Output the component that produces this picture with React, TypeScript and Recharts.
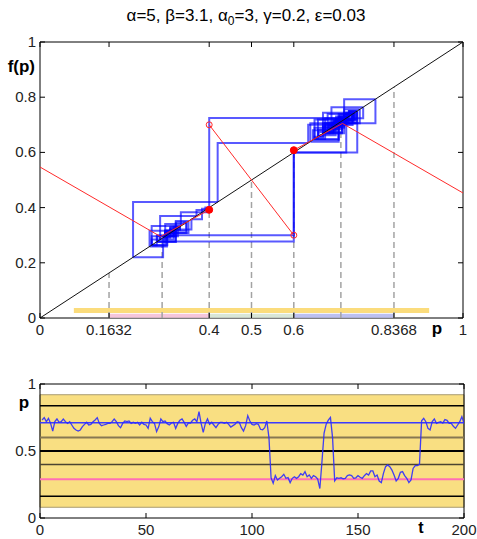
import React from 'react';
import { ComposedChart, Line, XAxis, YAxis, ReferenceLine, ReferenceArea, ReferenceDot } from 'recharts';

const FONT = '"Liberation Sans", Arial, Helvetica, sans-serif';

// ---------------- data ----------------
// time series p_t, t = 1..200
const P_SERIES = [
  0.731, 0.749, 0.719, 0.744, 0.706, 0.649, 0.719, 0.739, 0.714, 0.719,
  0.739, 0.719, 0.706, 0.719, 0.694, 0.669, 0.657, 0.649, 0.657, 0.682,
  0.699, 0.714, 0.694, 0.699, 0.719, 0.731, 0.749, 0.706, 0.689, 0.694,
  0.699, 0.706, 0.706, 0.719, 0.739, 0.719, 0.689, 0.674, 0.706, 0.724,
  0.719, 0.724, 0.706, 0.714, 0.706, 0.714, 0.694, 0.714, 0.699, 0.694,
  0.669, 0.744, 0.719, 0.706, 0.645, 0.680, 0.739, 0.719, 0.724, 0.704,
  0.694, 0.709, 0.714, 0.669, 0.706, 0.729, 0.739, 0.714, 0.684, 0.709,
  0.709, 0.729, 0.739, 0.719, 0.793, 0.706, 0.639, 0.706, 0.739, 0.699,
  0.714, 0.694, 0.674, 0.699, 0.714, 0.714, 0.706, 0.714, 0.699, 0.679,
  0.689, 0.699, 0.719, 0.714, 0.674, 0.649, 0.689, 0.764, 0.724, 0.699,
  0.694, 0.704, 0.699, 0.662, 0.659, 0.674, 0.724, 0.600, 0.300, 0.259,
  0.316, 0.284, 0.296, 0.308, 0.326, 0.296, 0.301, 0.264, 0.296, 0.308,
  0.296, 0.308, 0.331, 0.321, 0.346, 0.308, 0.321, 0.296, 0.316, 0.308,
  0.291, 0.220, 0.420, 0.634, 0.700, 0.730, 0.750, 0.600, 0.277, 0.300,
  0.296, 0.300, 0.293, 0.296, 0.316, 0.321, 0.316, 0.296, 0.300, 0.316,
  0.304, 0.296, 0.316, 0.331, 0.321, 0.351, 0.351, 0.308, 0.321, 0.276,
  0.264, 0.333, 0.383, 0.396, 0.383, 0.358, 0.321, 0.276, 0.296, 0.341,
  0.346, 0.316, 0.296, 0.264, 0.284, 0.370, 0.391, 0.391, 0.400, 0.725,
  0.744, 0.719, 0.669, 0.657, 0.719, 0.739, 0.706, 0.714, 0.719, 0.709,
  0.734, 0.729, 0.706, 0.706, 0.684, 0.669, 0.694, 0.719, 0.756, 0.706,
];
const T_FIRST = 1;

// piecewise map f(p)
const MAP_LEFT = [[0, 0.547], [0.285, 0.295], [0.4, 0.392]];
const MAP_MID = [[0.4, 0.7], [0.6, 0.3]];
const MAP_RIGHT = [[0.6, 0.608], [0.715, 0.705], [1, 0.453]];
const OPEN_MARKERS = [[0.4, 0.7], [0.6, 0.3]];
const FILLED_MARKERS = [[0.4, 0.392], [0.6, 0.608]];
const DIAGONAL = [[0, 0], [1, 1]];

// special points / levels
const DASHED_P = [0.1632, 0.2887, 0.4, 0.5, 0.6, 0.7113, 0.8368];
const STRIP_RANGES = [[0.1632, 0.4], [0.4, 0.6], [0.6, 0.8368]];
const BAND = [0.08, 0.92];
const H_LEVELS = [0.8368, 0.7113, 0.6, 0.5, 0.4, 0.2887, 0.1632];

// ticks
const TOP_X_TICKS = [0, 0.1632, 0.4, 0.5, 0.6, 0.8368, 1];
const TOP_Y_TICKS = [0, 0.2, 0.4, 0.6, 0.8, 1];
const BOT_X_TICKS = [0, 50, 100, 150, 200];
const BOT_Y_TICKS = [0, 0.5, 1];

// ---------------- derived tables ----------------
const toXY = (pts: number[][]) => pts.map(([x, y]) => ({ x, y }));
const seriesData = P_SERIES.map((p, i) => ({ t: T_FIRST + i, p }));
const cobweb = P_SERIES.slice(0, -1).map((p, i) => {
  const q = P_SERIES[i + 1];
  return [
    { x: p, y: p },
    { x: p, y: q },
    { x: q, y: q },
  ];
});

// ---------------- styles ----------------
const STRIP_COLORS = ['#f5c6db', '#d9e6d6', '#bcc0f0'];
const LEVEL_STYLES = [
  { c: '#000000', w: 1.5 },
  { c: '#3b3bff', w: 1.5 },
  { c: '#877852', w: 2 },
  { c: '#000000', w: 2 },
  { c: '#4c4431', w: 1.5 },
  { c: '#ff6fb4', w: 2 },
  { c: '#000000', w: 1.5 },
];
const TICK_LEN = 5;
const LABEL_SIZE = 15;
const LABEL_COLOR = '#222';

// top chart geometry
const TOP_W = 477;
const TOP_H = 350;
const TOP_M = { top: 42, right: 14, bottom: 12, left: 10 };
const TOP_PLOT_H = TOP_H - TOP_M.top - TOP_M.bottom - 20;
const TOP_PLOT_W = TOP_W - TOP_M.left - TOP_M.right - 30;

// bottom chart geometry
const BOT_W = 477;
const BOT_H = 189;
const BOT_M = { top: 34, right: 13, bottom: 1, left: 10 };
const BOT_PLOT_H = BOT_H - BOT_M.top - BOT_M.bottom - 20;
const BOT_PLOT_W = BOT_W - BOT_M.left - BOT_M.right - 30;

const makeXTick = (plotH: number) => (props: any) => {
  const { x, y, payload } = props;
  return (
    <g>
      <line x1={x} y1={y} x2={x} y2={y - TICK_LEN} stroke="#000" strokeWidth={1} />
      <line x1={x} y1={y - plotH} x2={x} y2={y - plotH + TICK_LEN} stroke="#000" strokeWidth={1} />
      <text x={x} y={y + 17} textAnchor="middle" fontSize={LABEL_SIZE} fill={LABEL_COLOR} fontFamily={FONT}>
        {String(payload.value)}
      </text>
    </g>
  );
};

const makeYTick = (plotW: number) => (props: any) => {
  const { x, y, payload } = props;
  return (
    <g>
      <line x1={x} y1={y} x2={x + TICK_LEN} y2={y} stroke="#000" strokeWidth={1} />
      <line x1={x + plotW} y1={y} x2={x + plotW - TICK_LEN} y2={y} stroke="#000" strokeWidth={1} />
      <text x={x - 4} y={y + 5} textAnchor="end" fontSize={LABEL_SIZE} fill={LABEL_COLOR} fontFamily={FONT}>
        {String(payload.value)}
      </text>
    </g>
  );
};

const TopXTick = makeXTick(TOP_PLOT_H);
const TopYTick = makeYTick(TOP_PLOT_W);
const BotXTick = makeXTick(BOT_PLOT_H);
const BotYTick = makeYTick(BOT_PLOT_W);

const lineCommon = {
  dot: false,
  activeDot: false,
  isAnimationActive: false,
  legendType: 'none' as const,
};

export default function App() {
  return (
    <div style={{ position: 'absolute', left: 0, top: 0, width: 477, height: 539, background: '#fff', fontFamily: FONT }}>
      <div style={{ position: 'absolute', left: 0, top: 0 }}>
        <ComposedChart width={TOP_W} height={TOP_H} margin={TOP_M}>
          <XAxis
            type="number"
            dataKey="x"
            domain={[0, 1]}
            ticks={TOP_X_TICKS}
            interval={0}
            height={20}
            tickSize={0}
            tickMargin={0}
            axisLine={false}
            tickLine={false}
            tick={TopXTick}
            allowDataOverflow
          />
          <YAxis
            type="number"
            domain={[0, 1]}
            ticks={TOP_Y_TICKS}
            interval={0}
            width={30}
            tickSize={0}
            tickMargin={0}
            axisLine={false}
            tickLine={false}
            tick={TopYTick}
            allowDataOverflow
          />
          {STRIP_RANGES.map(([a, b], i) => (
            <ReferenceLine
              key={'s' + i}
              segment={[{ x: a, y: 0.008 }, { x: b, y: 0.008 }]}
              stroke={STRIP_COLORS[i]}
              strokeWidth={4}
              ifOverflow="visible"
            />
          ))}
          <ReferenceLine
            segment={[{ x: BAND[0], y: 0.027 }, { x: BAND[1], y: 0.027 }]}
            stroke="#fbdc7c"
            strokeWidth={5}
          />
          {DASHED_P.map((v, i) => (
            <ReferenceLine
              key={'d' + i}
              segment={[{ x: v, y: 0 }, { x: v, y: v }]}
              stroke="#a3a3a3"
              strokeWidth={1.5}
              strokeDasharray="6 4"
            />
          ))}
          {cobweb.map((seg, i) => (
            <Line key={'c' + i} data={seg} dataKey="y" stroke="#0000ff" strokeOpacity={0.65} strokeWidth={2} {...lineCommon} />
          ))}
          <Line data={toXY(DIAGONAL)} dataKey="y" stroke="#111" strokeWidth={1} {...lineCommon} />
          <Line data={toXY(MAP_LEFT)} dataKey="y" stroke="#ff2a2a" strokeWidth={1} {...lineCommon} />
          <Line data={toXY(MAP_MID)} dataKey="y" stroke="#ff2a2a" strokeWidth={1} {...lineCommon} />
          <Line data={toXY(MAP_RIGHT)} dataKey="y" stroke="#ff2a2a" strokeWidth={1} {...lineCommon} />
          {OPEN_MARKERS.map(([x, y], i) => (
            <ReferenceDot key={'o' + i} x={x} y={y} r={3} fill="#fff" fillOpacity={0} stroke="#ff2a2a" strokeWidth={1} />
          ))}
          {FILLED_MARKERS.map(([x, y], i) => (
            <ReferenceDot key={'f' + i} x={x} y={y} r={3.5} fill="#ff0000" stroke="#ff0000" strokeWidth={1} />
          ))}
          <ReferenceArea x1={0} x2={1} y1={0} y2={1} fill="none" fillOpacity={0} stroke="#000" strokeWidth={1} ifOverflow="visible" />
        </ComposedChart>
      </div>

      <div style={{ position: 'absolute', left: 0, top: TOP_H }}>
        <ComposedChart width={BOT_W} height={BOT_H} data={seriesData} margin={BOT_M}>
          <XAxis
            type="number"
            dataKey="t"
            domain={[0, 200]}
            ticks={BOT_X_TICKS}
            interval={0}
            height={20}
            tickSize={0}
            tickMargin={0}
            axisLine={false}
            tickLine={false}
            tick={BotXTick}
            allowDataOverflow
          />
          <YAxis
            type="number"
            domain={[0, 1]}
            ticks={BOT_Y_TICKS}
            interval={0}
            width={30}
            tickSize={0}
            tickMargin={0}
            axisLine={false}
            tickLine={false}
            tick={BotYTick}
            allowDataOverflow
          />
          <ReferenceArea x1={0} x2={200} y1={BAND[0]} y2={BAND[1]} fill="#f9df82" fillOpacity={1} stroke="#a99d72" strokeWidth={1} />
          {H_LEVELS.map((v, i) => (
            <ReferenceLine key={'h' + i} y={v} stroke={LEVEL_STYLES[i].c} strokeWidth={LEVEL_STYLES[i].w} />
          ))}
          <Line dataKey="p" stroke="#2b2bff" strokeOpacity={0.9} strokeWidth={1.3} {...lineCommon} />
          <ReferenceArea x1={0} x2={200} y1={0} y2={1} fill="none" fillOpacity={0} stroke="#000" strokeWidth={1} ifOverflow="visible" />
        </ComposedChart>
      </div>

      <svg width={477} height={539} style={{ position: 'absolute', left: 0, top: 0, pointerEvents: 'none' }}>
        <text x={246} y={21} textAnchor="middle" fontSize={17} fill="#000" fontFamily={FONT}>
          α=5, β=3.1, α<tspan dy={4} fontSize={12}>0</tspan>
          <tspan dy={-4}>=3, γ=0.2, ε=0.03</tspan>
        </text>
        <text x={35} y={72} textAnchor="end" fontSize={17} fontWeight="bold" fill="#000" fontFamily={FONT}>f(p)</text>
        <text x={437} y={334} textAnchor="middle" fontSize={17} fontWeight="bold" fill="#000" fontFamily={FONT}>p</text>
        <text x={24} y={408} textAnchor="middle" fontSize={17} fontWeight="bold" fill="#000" fontFamily={FONT}>p</text>
        <text x={421} y={533} textAnchor="middle" fontSize={16} fontWeight="bold" fill="#000" fontFamily={FONT}>t</text>
      </svg>
    </div>
  );
}
